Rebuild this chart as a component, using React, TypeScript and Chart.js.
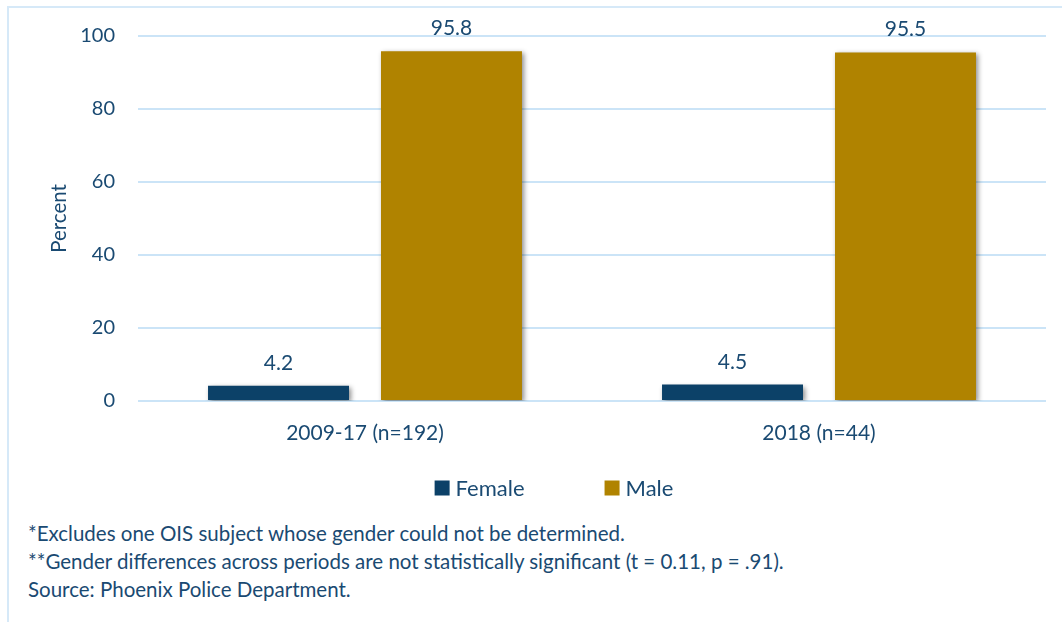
import React, { useEffect, useRef } from "react";
import { Chart, registerables } from "chart.js";
Chart.register(...registerables);

const categories = ["2009-17 (n=192)", "2018 (n=44)"];
const seriesNames = ["Female", "Male"];
const femaleValues = [4.2, 4.5];
const maleValues = [95.8, 95.5];
const yMin = 0;
const yMax = 100;
const yStep = 20;
const yTitle = "Percent";
const footnotes = [
  "*Excludes one OIS subject whose gender could not be determined.",
  "**Gender differences across periods are not statistically significant (t = 0.11, p = .91).",
  "Source: Phoenix Police Department.",
];

const FEMALE = "#0c4168";
const MALE = "#b08300";
const TEXT = "#1a4a72";
const GRID = "#cbe4f7";
const FONT = "Lato, 'Open Sans', sans-serif";

const shadowPlugin = {
  id: "barShadow",
  beforeDatasetDraw(chart: any) {
    const ctx = chart.ctx;
    ctx.save();
    ctx.shadowColor = "rgba(0,0,0,0.45)";
    ctx.shadowBlur = 5;
    ctx.shadowOffsetX = 2;
    ctx.shadowOffsetY = 2;
  },
  afterDatasetDraw(chart: any) {
    chart.ctx.restore();
  },
};

const labelPlugin = {
  id: "barLabels",
  afterDatasetsDraw(chart: any) {
    const ctx = chart.ctx;
    ctx.save();
    ctx.font = `21px ${FONT}`;
    ctx.fillStyle = TEXT;
    ctx.textAlign = "center";
    ctx.textBaseline = "alphabetic";
    chart.data.datasets.forEach((ds: any, di: number) => {
      const meta = chart.getDatasetMeta(di);
      meta.data.forEach((el: any, i: number) => {
        const v = ds.data[i] as number;
        ctx.fillText(v.toFixed(1), el.x, el.y - 16);
      });
    });
    ctx.restore();
  },
};

const legendPlugin = {
  id: "customLegend",
  afterDraw(chart: any) {
    const ctx = chart.ctx;
    const box = 15;
    const textGap = 6;
    const itemGap = 80;
    const centerX = 554;
    const centerY = 488;
    ctx.save();
    ctx.font = `22px ${FONT}`;
    const items = chart.data.datasets.map((ds: any) => ({
      label: ds.label as string,
      color: ds.backgroundColor as string,
      w: box + textGap + ctx.measureText(ds.label).width,
    }));
    const total = items.reduce((a: number, it: any) => a + it.w, 0) + itemGap * (items.length - 1);
    let x = centerX - total / 2;
    ctx.textBaseline = "middle";
    ctx.textAlign = "left";
    items.forEach((it: any) => {
      ctx.fillStyle = it.color;
      ctx.fillRect(x, centerY - box / 2, box, box);
      ctx.fillStyle = TEXT;
      ctx.fillText(it.label, x + box + textGap, centerY + 1);
      x += it.w + itemGap;
    });
    ctx.restore();
  },
};

export default function App() {
  const ref = useRef<HTMLCanvasElement | null>(null);
  useEffect(() => {
    if (!ref.current) return;
    const chart = new Chart(ref.current, {
      type: "bar",
      data: {
        labels: categories,
        datasets: [
          { label: seriesNames[0], data: femaleValues, backgroundColor: FEMALE, borderWidth: 0 },
          { label: seriesNames[1], data: maleValues, backgroundColor: MALE, borderWidth: 0 },
        ],
      },
      options: {
        responsive: false,
        maintainAspectRatio: false,
        animation: false,
        layout: { padding: { left: 43, right: 16, top: 36, bottom: 69 } },
        datasets: { bar: { categoryPercentage: 0.762, barPercentage: 0.815 } },
        scales: {
          x: {
            grid: { display: false },
            border: { display: false },
            ticks: { color: TEXT, font: { family: FONT, size: 21 }, padding: 12 },
            afterFit: (s: any) => {
              s.height = 50;
            },
          },
          y: {
            min: yMin,
            max: yMax,
            grid: { color: GRID, lineWidth: 2, drawTicks: false },
            border: { display: false },
            ticks: { stepSize: yStep, color: TEXT, font: { family: FONT, size: 20 }, padding: 23 },
            title: { display: true, text: yTitle, color: TEXT, font: { family: FONT, size: 20.5 }, padding: 4 },
            afterFit: (s: any) => {
              s.width = 95;
            },
          },
        },
        plugins: {
          legend: { display: false },
          tooltip: { enabled: false },
        },
      },
      plugins: [shadowPlugin, labelPlugin, legendPlugin],
    });
    return () => chart.destroy();
  }, []);

  return (
    <div style={{ position: "fixed", left: 0, top: 0, width: 1062, height: 622, overflow: "hidden", background: "#fff" }}>
      <div
        style={{
          position: "absolute",
          left: 7,
          top: 6,
          width: 1100,
          height: 700,
          borderLeft: "2px solid #d6e9f8",
          borderTop: "2px solid #d6e9f8",
        }}
      />
      <canvas ref={ref} width={1062} height={520} style={{ position: "absolute", left: 0, top: 0, width: 1062, height: 520 }} />
      {footnotes.map((t, i) => (
        <div
          key={i}
          style={{
            position: "absolute",
            left: 28,
            top: 521 + i * 28,
            fontFamily: FONT,
            fontSize: 20.5,
            lineHeight: "24px",
            color: TEXT,
            whiteSpace: "nowrap",
          }}
        >
          {t}
        </div>
      ))}
    </div>
  );
}
